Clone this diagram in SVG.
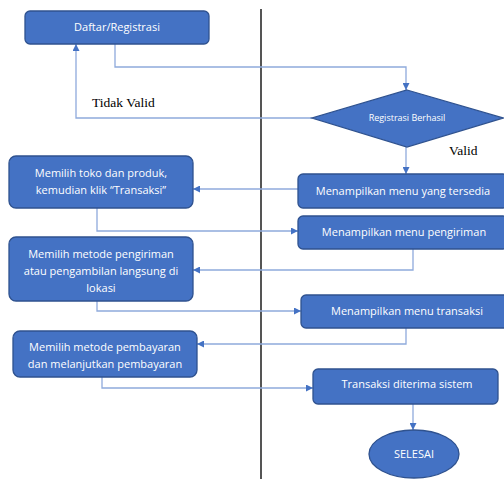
<svg xmlns="http://www.w3.org/2000/svg" width="504" height="479" viewBox="0 0 504 479">
<defs>
<style>
.box{fill:#4472C4;stroke:#2F528F;stroke-width:1.3}
.t{font-family:"Open Sans","Liberation Sans",sans-serif;font-size:11px;fill:#FFFFFF;text-anchor:middle}
.s{font-family:"Liberation Serif","Times New Roman",serif;font-size:13.5px;fill:#000000}
.c{fill:none;stroke:#8FAADC;stroke-width:1.3}
</style>
<marker id="ah" viewBox="0 0 10 10" refX="10" refY="5" markerWidth="7" markerHeight="7" markerUnits="userSpaceOnUse" orient="auto">
<path d="M0,0 L10,5 L0,10 z" fill="#4472C4"/>
</marker>
</defs>
<rect width="504" height="479" fill="#FFFFFF"/>
<line x1="261" y1="9" x2="261" y2="479" stroke="#555555" stroke-width="2"/>
<g id="connectors">
<polyline class="c" points="115,44 115,67 406,67 406,90" marker-end="url(#ah)"/>
<polyline class="c" points="312,118 76,118 76,44" marker-end="url(#ah)"/>
<polyline class="c" points="406,147 406,174" marker-end="url(#ah)"/>
<polyline class="c" points="298,189 193,189" marker-end="url(#ah)"/>
<polyline class="c" points="97,208 97,231 298,231" marker-end="url(#ah)"/>
<polyline class="c" points="413,249 413,270 193,270" marker-end="url(#ah)"/>
<polyline class="c" points="97,301 97,311 301,311" marker-end="url(#ah)"/>
<polyline class="c" points="406,328 406,344 197,344" marker-end="url(#ah)"/>
<polyline class="c" points="102,377 102,388 313,388" marker-end="url(#ah)"/>
<polyline class="c" points="413,404 413,430" marker-end="url(#ah)"/>
</g>
<text class="s" x="92" y="107">Tidak Valid</text>
<text class="s" x="449" y="155">Valid</text>
<g id="daftar">
<rect class="box" x="25" y="11" width="184" height="33" rx="5"/>
<text class="t" x="117" y="31">Daftar/Registrasi</text>
</g>
<g id="registrasi-berhasil">
<polygon class="box" points="407,90 503,118 407,147 312,118"/>
<text class="t" x="407" y="121" style="font-size:9px">Registrasi Berhasil</text>
</g>
<g id="menu-tersedia">
<rect class="box" x="298" y="174" width="210" height="34" rx="5"/>
<text class="t" x="403" y="195">Menampilkan menu yang tersedia</text>
</g>
<g id="memilih-toko">
<rect class="box" x="9" y="156" width="184" height="52" rx="7"/>
<text class="t" x="101" y="177">Memilih toko dan produk,</text>
<text class="t" x="101" y="194">kemudian klik “Transaksi”</text>
</g>
<g id="menu-pengiriman">
<rect class="box" x="298" y="216" width="210" height="33" rx="5"/>
<text class="t" x="404" y="236">Menampilkan menu pengiriman</text>
</g>
<g id="memilih-pengiriman">
<rect class="box" x="9" y="237" width="184" height="64" rx="7"/>
<text class="t" x="101" y="258">Memilih metode pengiriman</text>
<text class="t" x="101" y="275">atau pengambilan langsung di</text>
<text class="t" x="101" y="292">lokasi</text>
</g>
<g id="menu-transaksi">
<rect class="box" x="301" y="295" width="210" height="33" rx="5"/>
<text class="t" x="407" y="315">Menampilkan menu transaksi</text>
</g>
<g id="memilih-pembayaran">
<rect class="box" x="13" y="331" width="184" height="46" rx="7"/>
<text class="t" x="105" y="351">Memilih metode pembayaran</text>
<text class="t" x="105" y="368">dan melanjutkan pembayaran</text>
</g>
<g id="transaksi-diterima">
<rect class="box" x="313" y="369" width="185" height="35" rx="5"/>
<text class="t" x="407" y="388">Transaksi diterima sistem</text>
</g>
<g id="selesai">
<ellipse class="box" cx="414" cy="454" rx="45" ry="24"/>
<text class="t" x="414" y="458">SELESAI</text>
</g>
</svg>
